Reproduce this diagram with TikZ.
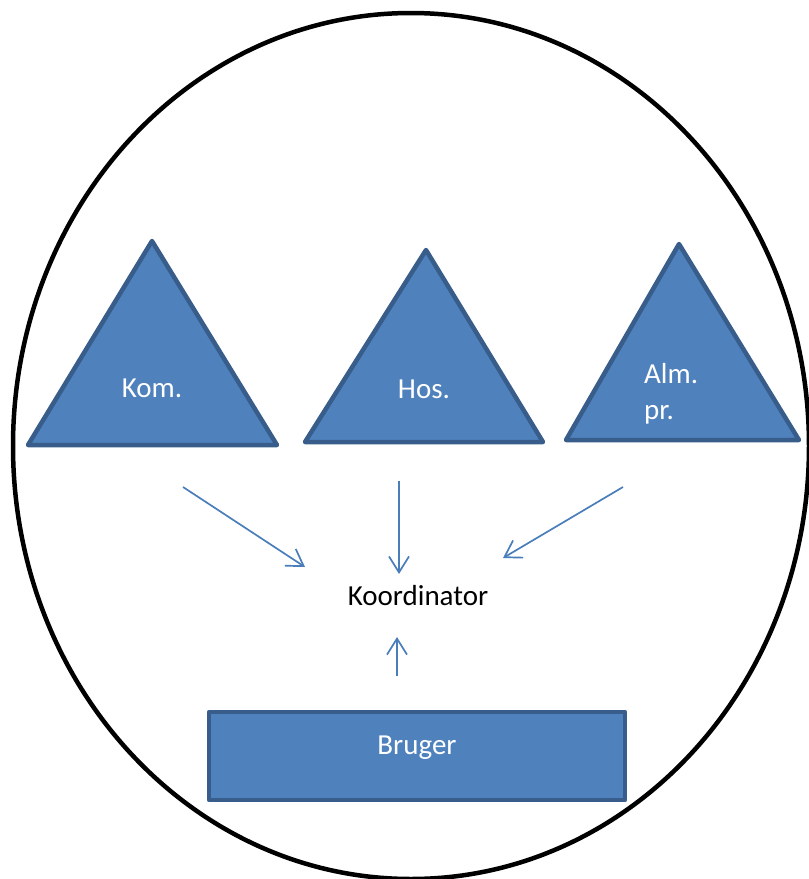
\documentclass[tikz,border=0pt]{standalone}
\usepackage{fontspec}
\setmainfont{Carlito}
\usetikzlibrary{arrows.meta}
\definecolor{shapefill}{HTML}{4F81BD}
\definecolor{shapeline}{HTML}{385D8A}
\definecolor{arrowcol}{HTML}{4A7EBB}
\tikzset{
  shapebox/.style={fill=shapefill, draw=shapeline, line width=4.5pt, line join=round},
  wlabel/.style={text=white, font=\fontsize{29}{36}\selectfont, inner sep=0pt},
  blabel/.style={text=black, font=\fontsize{29}{34}\selectfont, inner sep=0pt},
  conn/.style={draw=arrowcol, line width=1.7pt, -{Straight Barb[length=16pt,width=20pt,line width=1.7pt]}}
}
\begin{document}
\begin{tikzpicture}[x=1pt,y=-1pt]
\useasboundingbox (0,0) rectangle (809,879);
\draw[line width=4.5pt] (411,446) ellipse [x radius=398, y radius=433];
% triangles
\draw[shapebox] (152,241) -- (277,445) -- (28,445) -- cycle;
\draw[shapebox] (426,250) -- (543,442) -- (305,442) -- cycle;
\draw[shapebox] (679,244) -- (799,440) -- (566,440) -- cycle;
\node[wlabel] (kom) at (152,388) {Kom.};
\node[wlabel] (hos) at (424,389) {Hos.};
\node[wlabel, align=left, anchor=west] (alm) at (644,394) {Alm.\\pr.};
% rectangle
\draw[shapebox] (209,712) rectangle (625,800);
\node[wlabel] (bruger) at (417,748) {Bruger};
% coordinator
\node[blabel] (koord) at (418,596) {Koordinator};
% arrow endpoints
\coordinate (a1s) at (183,487); \coordinate (a1e) at (305,567);
\coordinate (a2s) at (399,481); \coordinate (a2e) at (399,574);
\coordinate (a3s) at (623,487); \coordinate (a3e) at (503,558);
\coordinate (a4s) at (397,676); \coordinate (a4e) at (397,637);
\draw[conn] (a1s) -- (a1e);
\draw[conn] (a2s) -- (a2e);
\draw[conn] (a3s) -- (a3e);
\draw[conn] (a4s) -- (a4e);
\end{tikzpicture}
\end{document}
